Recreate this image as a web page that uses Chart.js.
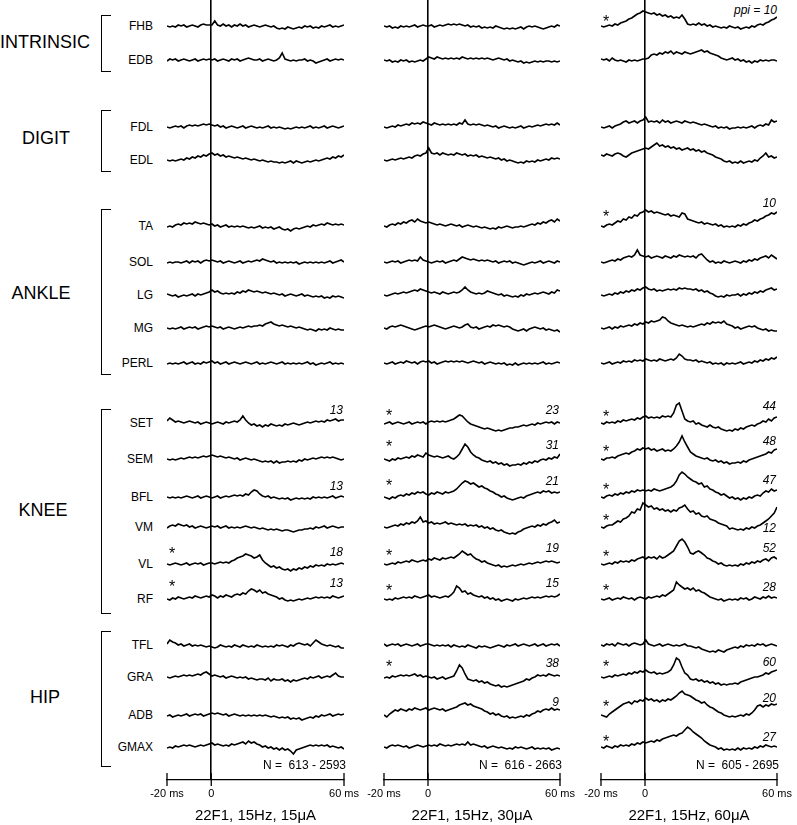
<!DOCTYPE html>
<html>
<head>
<meta charset="utf-8">
<script src="https://cdn.jsdelivr.net/npm/chart.js@4.4.1/dist/chart.umd.min.js"></script>
<style>
body { margin: 0; background: #fff; }
#page { position: relative; width: 797px; height: 825px; overflow: hidden; color: #000;
  font-family: "Liberation Sans", Arial, sans-serif; }
#page canvas { position: absolute; top: 0; }
.lbl { position: absolute; white-space: nowrap; line-height: 1; }
.muscle { font-size: 12px; transform: translate(-100%, -50%); }
.group { font-size: 18px; transform: translate(-50%, -50%); }
.num { font-size: 12px; font-style: italic; transform: translate(-100%, -50%); }
.nlab { font-size: 12px; transform: translate(-100%, -50%); white-space: pre; }
.star { font-size: 16px; transform: translateX(-50%); }
.bracket { position: absolute; border: 1.5px solid #000; border-right: none; width: 9px; }
</style>
</head>
<body>
<div id="page"></div>
<script>
const muscles = ['FHB', 'EDB', 'FDL', 'EDL', 'TA', 'SOL', 'LG', 'MG', 'PERL',
  'SET', 'SEM', 'BFL', 'VM', 'VL', 'RF', 'TFL', 'GRA', 'ADB', 'GMAX'];
const tickValues = [-20, 0, 60];

// each char = one sample, base-36, 'a' = baseline, 1 unit = 1 px
const traces15 = [
  "a9a9bab9aba9bcbb bfbacab9bacab9ab a9aba9a878798789 8a9a898a9ab9a9ab",
  "9bab9aba9ab9abab ab9aba9bab9abcba ab9aba9achba9a9a ab9a9789ab9ababa",
  "a9abab9bcbcbcdcd cbcab9aba9ab9aba 9a9ab9a9a98989a9 a9ab9a9ab9aba9ab",
  "a9a9abacbdcedfeg hfgefdedcdcbcbab a9a9898878789798 78989a9abcbdcedf",
  "9a9bcbdcdcedcdcb cab9ab9a9a9a9898 9a89897897675787 89a9babcbdcbcbcb",
  "9a9aa9ab9bab9bcb cbab9aba9ab9abab cbdcbab9a9a9a9a8 9a9a9a9a9ab9abca",
  "ba9a89a9ab9babcd fdecbcbcbdcedfed edcdcbcbab9aba9a b9a9898978798987",
  "a9a9ab9abab9abcb cbab9aba9ababcbc cdcefgedcdcbcbab a989879898a98988",
  "9a9a9ab9ab9a9bab cab9ab9aba9aba9a b9a9aba9ab9a9a9a 9ab9a89a9ab9a9a9",
  "cfdbcbabcbab9aba 9aba9babcbdhda89 7868798787989a98 9ababcbcbdcdecdd",
  "a9a9ababcbcbcdcd edcdcbcbab9aba9a 9878786867787879 8a9ababcbcbcba9a",
  "a9a9a9aba9ab9aba 9ab9ababcbcbdcfh gdbab9a989897898 9898a9a9a9ab9aba",
  "9bcbdcbcab9aba9a bab9ab9a9a9aba9a 9898787876776567 78898a9ab9aba9aa",
  "a9aba9ab9abab9ab babcbcbdeghikjig hjeb978675453546 576879898a9a9aba",
  "a9bacbabcbdcbcdc edbdcedcefegfikj hjghfedcab98989a 9ababcbcbcbdcbcd",
  "bfdcab9ab9a9a989 878a9898a98a9898 a989898a9a98a9bc bab9cfdba9a98977",
  "a9ababcbcbcdcefd bcbab9aba9a9a898 7887968778675767 898a9ab9abacebaa",
  "9a89a9ab9abab9ab cbcbab9aba9a9a9a 9a9a989878786767 5678798a9ab9abab",
  "9a9babcbcbabcbcd ecdcbcbdcdefdgef dcab9a8979786378 9abcbcbcbcaba9a8"
];
const traces30 = [
  "a9a898a9a9ab9aba ab9ababcbcbcbab9 a9a89898a9878787 8979a9a98789a9ba",
  "a9a898a9a8989a9b dcbdcbcbcbcbdcbc bcbcbcbabcbab9a9 8978789898998989",
  "a9abacbcdcededfe dcedcdcdcdcedhdc dcdcbcbab9aba9a9 ab9ababcbcdcdcec",
  "a9ababcbcdcefegh mhghfhgfgfhgfgef efdedcdcbcab9a98 7879898a9abacbcb",
  "a9bcbdcedfgehfed edcbcbabcbab9aba 9a9898787989a989 9a9abcbdcedfgehf",
  "a9abab9abcbcbfcb a9abab9abcbdfedc dcbcbcbab9abab9a 98789a9ab9aba9ba",
  "a9abcbcdcdefegfe dcdcbdcbcdcdfifd cbcbcedcbab9a989 8a9babcbcdcbdcfe",
  "a9bcbcdcba989abc bcdcba9abcbabdeb ab9abcbdcdcbcb98 78979aba9a898786",
  "a9ab9abacbab9bcb cab9abcbcbcbcbab cbab9aba9a9a898a 89a9a9a9ab9a9aba",
  "9ab9aba9ab9abab9 bcbcbcbcdegiheb9 8765454323234556 6787898a9abab9ba",
  "a98a9babcbdcedcg edcdcbcdbacfkpmh ecb9878675645344 546576879a9bacbf",
  "a98a9bcbdcedfefd cedfedfefgiloqpn omkljigfdcab9878 9a9bcdefegfgefef",
  "a9abcbdcedfegkfg efdedefdedcdcdbc bcab9a8976754343 5689abacbdcefhef",
  "a9abacbcdcedcded fegfegfghgiknljk hfecdba989787898 9a9ababcbcdcdcbc",
  "a9a9babcbcbdcbcd ecdcbcdcehnlhifg edcdbcab9a89a98a 9ababcbcbcdcdcdf",
  "b9abab9aba9ab9ab ba9a9a9a8a9898a9 879898789a98a9ab 9aba9ab9ab9abab9",
  "9a9babcbcbcdbcab a9a89a89abgmjd87 6756453212010123 456879acbcbdcbcb",
  "a8bdfegfegfhgfgh fghgfgefghiklmkl jihgedbcab989787 898a9bcedfgfhfgf",
  "a9bcbcbab9abcbab cbcbdcbcbcdcdcfc dcbab9aba9a9898a 9a989a8989897898"
];
const traces60 = [
  "a9abacbdefhikmnp onmnlmkljkijilhc bcbdbcab9a9898a9 897898a9bcbdeghj",
  "bab9ca9a98a9a9ab bcfgfhgihjgihgih ghijkijhgfecbabc ab9a89798a9a9aa9",
  "a9ab9bcdfgefgegh kfgfgehfgefgfegf efedcdcbab9a9a89 9a9a9ab9bcbdchfg",
  "fegfeghgedfhijkl mlnpropnomnlmklm kljkijhgfdcb9897 8797898a9cehdecd",
  "a9bcbdfehgjilkno qopnonmlmklkjnmh gfedecdcbcab9a9a 9bacbdegfhiklnmo",
  "a9abcbdcefgfhmhg fgefgfegfegfhgfg fgehifcab9a9ba9a ba9bacbdcefgehfd",
  "a9abacbdcedfegfh igfgefefgfgfhghg gfgefdecb9898a9a ab9bacbdcedfghfg",
  "a9ab9bacbcdcedfe gfhghilkhfedcdcb cbcdedfegfgfhedc ab9abcbca9897877",
  "a9ab9abacbcbdcdc edcdcedcdedfjhed dcdbcbab9a9a8a9a 9ab9abacbdcedfeg",
  "a9babacbdcdedfeg hfgfgfhghgksumec bc9a876865643232 435467879acbecfg",
  "a9bbcbdefgfhikjl kljkijkijiknrxrm hfdcbab989786756 676879abcdefhgjk",
  "a9bcbdcedfegfhgh ghgihghijkmqwzxu sqpnoklihfecdb9a 89798a9bcbegfigh",
  "a9bccegfijlposry wuvstrsqrprqtuws pqnolklihgedcb89 878798a9bcegilou",
  "a9abacbdcdcedfgh fhghfighjlnsxzwr lkmnljgfdcab9898 98a9bacbdcefdghf",
  "a9ab9abacbab9bcb acbcdcedfhjromkl jlijhgecba9a89a9 a9bab9acbacbdbcb",
  "a9bab9cbab9bcbab fba9ab9aba9a9ab9 9878654343543567 8798a9a9bab9aba9",
  "a9abacbcdcedfegf hfefdedefhmtrkec 8786756453423233 4356789aabcedfgh",
  "a98bdfhjlmnlonpo rpqopnpoqprtwyvu trpomnkihfdca989 89a9bacfjkikjlkl",
  "a9ba9bacbcbdcedf efgfhgijklmlnoru spnljgecba897878 7979898a9bacbaba"
];

const counts15 = { SET: '13', BFL: '13', VL: '18', RF: '13' };
const counts30 = { SET: '23', SEM: '31', BFL: '21', VL: '19', RF: '15', GRA: '38', ADB: '9' };
const counts60 = { TA: '10', SET: '44', SEM: '48', BFL: '47', VM: '12', VL: '52', RF: '28', GRA: '60', ADB: '20', GMAX: '27' };
const stars15 = ['VL', 'RF'];
const stars30 = ['SET', 'SEM', 'BFL', 'VL', 'RF', 'GRA'];
const stars60 = ['FHB', 'TA', 'SET', 'SEM', 'BFL', 'VM', 'VL', 'RF', 'GRA', 'ADB', 'GMAX'];
const titles = ['22F1, 15Hz, 15\u03bcA', '22F1, 15Hz, 30\u03bcA', '22F1, 15Hz, 60\u03bcA'];
const nRanges = ['N =  613 - 2593', 'N =  616 - 2663', 'N =  605 - 2695'];

// layout
const rowY = [26, 60, 127, 160, 226, 262, 295, 328, 363, 423, 459, 497, 527, 564, 599, 645, 677, 715, 747];
const groups = [
  { name: 'INTRINSIC', cx: 45, cy: 42, top: 15, bottom: 70 },
  { name: 'DIGIT', cx: 46, cy: 138, top: 110, bottom: 170 },
  { name: 'ANKLE', cx: 41, cy: 293, top: 209, bottom: 373 },
  { name: 'KNEE', cx: 43, cy: 510, top: 409, bottom: 612 },
  { name: 'HIP', cx: 45, cy: 697, top: 631, bottom: 765 }
];
const countDy = [
  { SET: -13, BFL: -11, VL: -12, RF: -16 },
  { SET: -13, SEM: -14, BFL: -16, VL: -16, RF: -16, GRA: -14, ADB: -13 },
  { TA: -23, SET: -17, SEM: -18, BFL: -17, VM: 1, VL: -16, RF: -12, GRA: -15, ADB: -17, GMAX: -10 }
];
const starDy = [
  { VL: -14, RF: -16 },
  { SET: -11, SEM: -16, BFL: -15, VL: -12, RF: -12, GRA: -14 },
  { FHB: -8, TA: -13, SET: -10, SEM: -11, BFL: -11, VM: -10, VL: -11, RF: -12, GRA: -14, ADB: -12, GMAX: -9 }
];
const colLeft = [167, 384, 601];
const colWidth = [177, 176, 176];
const PAD = 40;
const FONT = '"Liberation Sans", Arial, sans-serif';

const page = document.getElementById('page');

function addLabel(cls, text, x, y) {
  const d = document.createElement('div');
  d.className = 'lbl ' + cls;
  d.textContent = text;
  d.style.left = x + 'px';
  d.style.top = y + 'px';
  page.appendChild(d);
  return d;
}

function decode(str) {
  const s = str.replace(/ /g, '');
  return Array.from(s, (ch, i) => ({ x: -20 + i * 80 / (s.length - 1), dev: parseInt(ch, 36) - 10 }));
}

const tickMarks = {
  id: 'tickMarks',
  afterDraw(chart) {
    const sx = chart.scales.x, c = chart.ctx, y0 = chart.chartArea.bottom;
    c.save();
    c.strokeStyle = '#000';
    c.lineWidth = 1.3;
    tickValues.forEach(v => {
      const px = sx.getPixelForValue(v);
      c.beginPath();
      c.moveTo(px, y0 - 7);
      c.lineTo(px, y0 + 6);
      c.stroke();
    });
    c.restore();
  }
};

// left side: groups, brackets, muscle names
groups.forEach(g => {
  addLabel('group', g.name, g.cx, g.cy);
  const b = document.createElement('div');
  b.className = 'bracket';
  b.style.left = '101px';
  b.style.top = g.top + 'px';
  b.style.height = (g.bottom - g.top) + 'px';
  page.appendChild(b);
});
muscles.forEach((m, r) => addLabel('muscle', m, 153, rowY[r]));
addLabel('num', 'ppi = 10', 777, 10);

const columns = [
  { traces: traces15, counts: counts15, stars: stars15 },
  { traces: traces30, counts: counts30, stars: stars30 },
  { traces: traces60, counts: counts60, stars: stars60 }
];

columns.forEach((col, k) => {
  const canvas = document.createElement('canvas');
  canvas.width = colWidth[k] + 2 * PAD;
  canvas.height = 825;
  canvas.style.left = (colLeft[k] - PAD) + 'px';
  page.appendChild(canvas);

  const datasets = col.traces.map((s, r) => ({
    data: decode(s).map(p => ({ x: p.x, y: rowY[r] - p.dev })),
    borderColor: '#000',
    borderWidth: 1.6,
    pointRadius: 0,
    tension: 0,
    fill: false
  }));

  new Chart(canvas, {
    type: 'line',
    data: { datasets },
    options: {
      responsive: false,
      animation: false,
      events: [],
      layout: { padding: { left: PAD, right: PAD, top: 0, bottom: 0 } },
      plugins: { legend: { display: false }, tooltip: { enabled: false } },
      scales: {
        x: {
          type: 'linear', min: -20, max: 60,
          afterBuildTicks: s => { s.ticks = tickValues.map(v => ({ value: v })); },
          afterFit: s => { s.height = 45; },
          ticks: {
            autoSkip: false, maxRotation: 0, padding: 7, color: '#000',
            font: { size: 11, family: FONT },
            callback: v => v === 0 ? '0' : v + ' ms'
          },
          grid: {
            drawTicks: false, lineWidth: 1.6,
            color: c => (c.tick && c.tick.value === 0) ? '#000' : 'rgba(0,0,0,0)'
          },
          border: { display: true, color: '#000', width: 1.3 },
          title: { display: true, text: titles[k], color: '#000', font: { size: 15, family: FONT }, padding: 0 }
        },
        y: { display: false, min: 0, max: 780, reverse: true }
      }
    },
    plugins: [tickMarks]
  });

  const right = colLeft[k] + colWidth[k];
  Object.keys(col.counts).forEach(m => {
    const r = muscles.indexOf(m);
    addLabel('num', col.counts[m], right - 1, rowY[r] + countDy[k][m]);
  });
  col.stars.forEach(m => {
    const r = muscles.indexOf(m);
    addLabel('star', '*', colLeft[k] + 5, rowY[r] + starDy[k][m] - 4);
  });
  addLabel('nlab', nRanges[k], right + 2, 765);
});
</script>
</body>
</html>
